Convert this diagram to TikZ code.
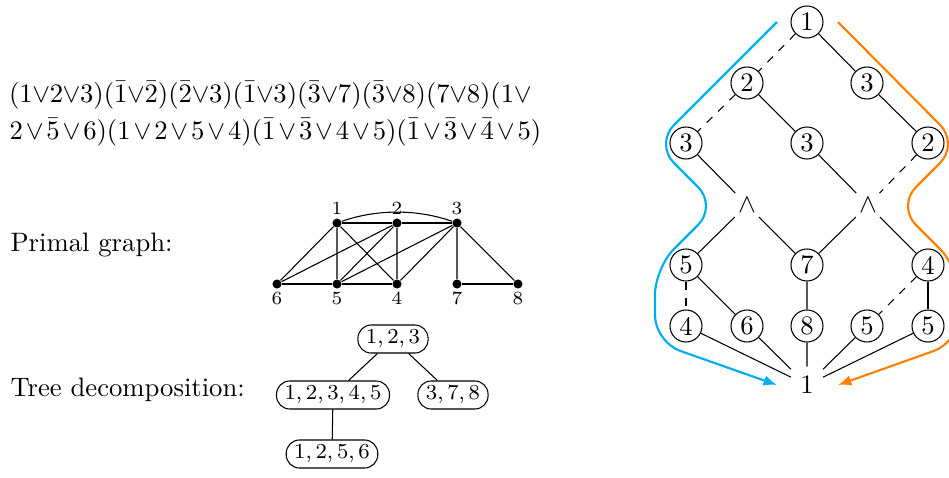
\documentclass[tikz,border=0pt]{standalone}
\usetikzlibrary{arrows.meta}
\definecolor{myblue}{RGB}{0,174,239}
\definecolor{myorange}{RGB}{255,128,0}
\newcommand{\tv}{{\mkern-0.25mu\vee\mkern-0.25mu}}
\begin{document}
\begin{tikzpicture}[x=0.375pt,y=-0.375pt,
  cn/.style={circle,draw,minimum size=12pt,inner sep=0pt,line width=0.4pt},
  wn/.style={inner sep=1.5pt},
  vx/.style={circle,fill,inner sep=0pt,minimum size=3.4pt},
  vlab/.style={font=\scriptsize,inner sep=1pt},
  td/.style={draw,rectangle,rounded corners=5pt,inner xsep=3pt,inner ysep=1.9pt,font=\footnotesize},
  ed/.style={line width=0.4pt},
  ded/.style={line width=0.4pt,dashed},
  pathb/.style={myblue,line width=0.8pt,rounded corners=10pt,-{Latex[length=5pt,width=4pt]}},
  patho/.style={myorange,line width=0.8pt,rounded corners=10pt,-{Latex[length=5pt,width=4pt]}},
  txt/.style={anchor=west,inner sep=0pt}]
\useasboundingbox (0,0) rectangle (949,477);

% formula
\node[txt] (f1) at (8.5,95) {$(1\tv2\tv3)(\bar1\tv\bar2)(\bar2\tv3)(\bar1\tv3)(\bar3\tv7)(\bar3\tv8)(7\tv8)(1\tv$};
\node[txt] (f2) at (9,132) {\medmuskip=1.95mu $2\vee\bar5\vee6)(1\vee2\vee5\vee4)(\bar1\vee\bar3\vee4\vee5)(\bar1\vee\bar3\vee\bar4\vee5)$};

% labels
\node[txt] (pg) at (10,245) {Primal graph:};
\node[txt] (tdl) at (10,390) {Tree decomposition:};

% primal graph
\node[vx,label={[vlab]above:1}] (v1) at (337,223) {};
\node[vx,label={[vlab]above:2}] (v2) at (397,223) {};
\node[vx,label={[vlab]above:3}] (v3) at (457,223) {};
\node[vx,label={[vlab]below:6}] (v6) at (277,284) {};
\node[vx,label={[vlab]below:5}] (v5) at (337,284) {};
\node[vx,label={[vlab]below:4}] (v4) at (397,284) {};
\node[vx,label={[vlab]below:7}] (v7) at (457,284) {};
\node[vx,label={[vlab]below:8}] (v8) at (518,284) {};
\draw[ed] (v1) -- (v2) -- (v3);
\draw[ed] (v1) .. controls (377,209) and (417,209) .. (v3);
\draw[ed] (v1) -- (v6) (v1) -- (v5) (v1) -- (v4);
\draw[ed] (v2) -- (v6) (v2) -- (v5) (v2) -- (v4);
\draw[ed] (v3) -- (v5) (v3) -- (v4) (v3) -- (v7) (v3) -- (v8);
\draw[ed] (v6) -- (v5) -- (v4) (v7) -- (v8);

% tree decomposition
\node[td] (t1) at (393,339) {$1,2,3$};
\node[td] (t2) at (333,395) {$1,2,3,4,5$};
\node[td] (t3) at (453,395) {$3,7,8$};
\node[td] (t4) at (332,454) {$1,2,5,6$};
\draw[ed] (t1) -- (t2) (t1) -- (t3) (t2) -- (t4);

% right diagram
\node[cn] (r1) at (807,22) {1};
\node[cn] (a2) at (747,83) {2};
\node[cn] (a3) at (867,83) {3};
\node[cn] (b3l) at (686,143) {3};
\node[cn] (b3m) at (807,143) {3};
\node[cn] (b2r) at (928,143) {2};
\node[wn] (andL) at (747,205) {$\wedge$};
\node[wn] (andR) at (868,205) {$\wedge$};
\node[cn] (c5) at (686,265) {5};
\node[cn] (c7) at (807,265) {7};
\node[cn] (c4) at (928,265) {4};
\node[cn] (d4) at (686,326) {4};
\node[cn] (d6) at (747,326) {6};
\node[cn] (d8) at (807,326) {8};
\node[cn] (d5a) at (867,326) {5};
\node[cn] (d5b) at (928,326) {5};
\node (bot) at (807,385) {1};

\draw[ded] (r1) -- (a2);
\draw[ed] (r1) -- (a3);
\draw[ded] (a2) -- (b3l);
\draw[ed] (a2) -- (b3m);
\draw[ed] (a3) -- (b2r);
\draw[ed] (b3l) -- (andL);
\draw[ed] (b3m) -- (andR);
\draw[ded] (b2r) -- (andR);
\draw[ed] (andL) -- (c5) (andL) -- (c7) (andR) -- (c7) (andR) -- (c4);
\draw[ded] (c5) -- (d4);
\draw[ed] (c5) -- (d6) (c7) -- (d8);
\draw[ded] (c4) -- (d5a);
\draw[ed] (c4) -- (d5b);
\draw[ed] (d4) -- (bot) (d6) -- (bot) (d8) -- (bot) (d5a) -- (bot) (d5b) -- (bot);

% coloured paths
\coordinate (bs) at (777,22);
\coordinate (be) at (777,385);
\coordinate (os) at (838,22);
\coordinate (oe) at (838,385);
\draw[pathb] (bs) -- (655,144) -- (717,206) -- (655,268) -- (655,342) -- (be);
\draw[patho] (os) -- (959,144) -- (897,206) -- (959,268) -- (959,342) -- (oe);
\end{tikzpicture}
\end{document}
